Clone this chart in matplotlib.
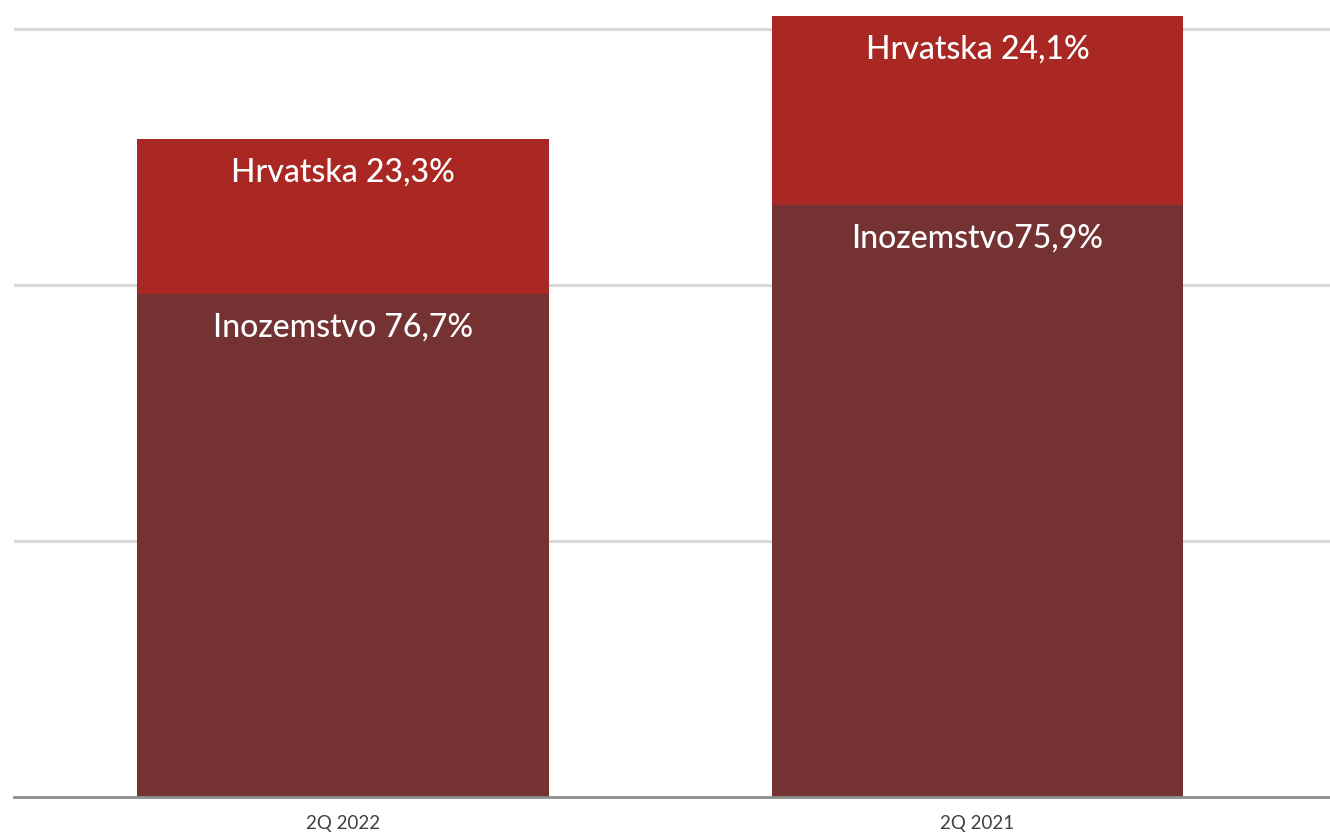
import matplotlib
matplotlib.use("Agg")
import matplotlib.pyplot as plt

categories = ["2Q 2022", "2Q 2021"]
inozemstvo = [1.965, 2.313]
hrvatska = [0.605, 0.738]
inozemstvo_labels = ["Inozemstvo 76,7%", "Inozemstvo75,9%"]
hrvatska_labels = ["Hrvatska 23,3%", "Hrvatska 24,1%"]

plt.rcParams['font.family'] = ['Lato', 'DejaVu Sans']

fig = plt.figure(figsize=(13.3, 8.33), dpi=100)
ax = fig.add_axes([14/1330, 36/833, 1316/1330, 797/833])

x = list(range(len(categories)))
w = 0.649
c_bottom = "#743232"
c_top = "#A92824"

ax.bar(x, inozemstvo, width=w, color=c_bottom, zorder=2)
ax.bar(x, hrvatska, width=w, bottom=inozemstvo, color=c_top, zorder=2)

for i in x:
    ax.annotate(inozemstvo_labels[i], xy=(i, inozemstvo[i]), xytext=(0, -24),
                textcoords="offset points", ha="center", va="center",
                color="white", fontsize=23, fontweight="medium", zorder=3)
    ax.annotate(hrvatska_labels[i], xy=(i, inozemstvo[i] + hrvatska[i]), xytext=(0, -24),
                textcoords="offset points", ha="center", va="center",
                color="white", fontsize=23, fontweight="medium", zorder=3)

ax.set_xlim(-0.5185, 1.5556)
ax.set_ylim(0, 797/256)
ax.set_yticks([1, 2, 3])
ax.yaxis.grid(True, color="#d9d9d9", linewidth=2.2, zorder=0)
ax.tick_params(axis="y", left=False, labelleft=False)
ax.set_xticks(x)
ax.set_xticklabels(categories, fontsize=13.5, color="#404040")
ax.tick_params(axis="x", length=0, pad=13)
for s in ["top", "right", "left"]:
    ax.spines[s].set_visible(False)
ax.spines["bottom"].set_color("#8c8c8c")
ax.spines["bottom"].set_linewidth(2)
ax.spines["bottom"].set_zorder(4)

fig.savefig("out.png", dpi=100)
